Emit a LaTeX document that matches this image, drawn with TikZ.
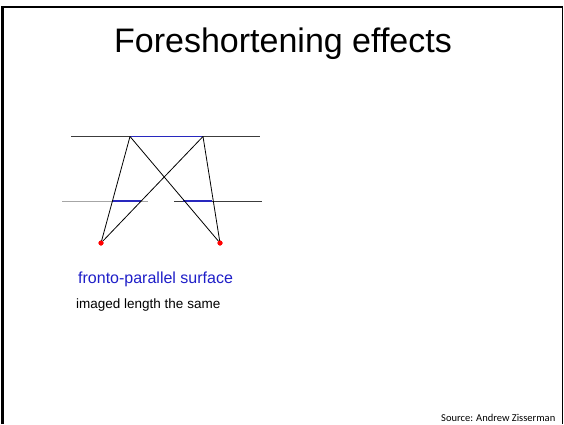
\documentclass[tikz,border=0pt]{standalone}
\usepackage{fontspec}
\setmainfont{Liberation Sans}
\newfontfamily\srcfont{Carlito}
\definecolor{segblue}{RGB}{40,40,190}
\definecolor{txtblue}{RGB}{30,30,200}
\definecolor{planegray}{RGB}{60,60,60}
\begin{document}
\begin{tikzpicture}[x=1pt,y=1pt,
  plane/.style={draw=planegray,line width=0.7pt},
  imgseg/.style={draw=segblue,line width=1.4pt},
  ray/.style={draw=black,line width=0.8pt},
  center/.style={circle,fill=red,inner sep=0pt,minimum size=5pt},
  txt/.style={inner sep=0pt,anchor=base west}]
\useasboundingbox (0,0) rectangle (564,424);
% slide frame
\draw[line width=3pt] (2.5,0) -- (2.5,418);
\draw[line width=2pt] (1,417) -- (563,417);
\draw[line width=1.5pt] (562.5,418) -- (562.5,0);
% title
\node[inner sep=0pt,anchor=base] (title) at (283,371) {\fontsize{34}{40}\selectfont Foreshortening effects};
% planes
\coordinate (tl) at (71,287.5);
\coordinate (tr) at (260,287.5);
\coordinate (ll) at (62,223);
\coordinate (lr) at (148,223);
\coordinate (rl) at (174,223);
\coordinate (rr) at (262,223);
\draw[plane] (tl) -- (tr);
\draw[plane,draw=gray!70] (ll) -- (lr);
\draw[plane] (rl) -- (rr);
% object segment endpoints
\coordinate (A) at (130,287.5);
\coordinate (B) at (203,287.5);
% camera centres
\node[center] (c1) at (101,181) {};
\node[center] (c2) at (220,181) {};
% image segments
\coordinate (la) at (112.4,223);
\coordinate (lb) at (141,223);
\coordinate (ra) at (183,223);
\coordinate (rb) at (211.6,223);
\draw[imgseg] (A) -- (B);
\draw[imgseg] (la) -- (lb);
\draw[imgseg] (ra) -- (rb);
% rays
\draw[ray] (c1.center) -- (A);
\draw[ray] (c1.center) -- (B);
\draw[ray] (c2.center) -- (A);
\draw[ray] (c2.center) -- (B);
\node[center] at (c1) {};
\node[center] at (c2) {};
% texts
\node[txt,text=txtblue] (t1) at (78,141) {\fontsize{16}{19}\selectfont fronto-parallel surface};
\node[txt] (t2) at (76,116) {\fontsize{13.5}{16}\selectfont imaged length the same};
\node[txt] (src) at (441,3) {\srcfont\fontsize{10.5}{12}\selectfont Source: Andrew Zisserman};
\end{tikzpicture}
\end{document}
